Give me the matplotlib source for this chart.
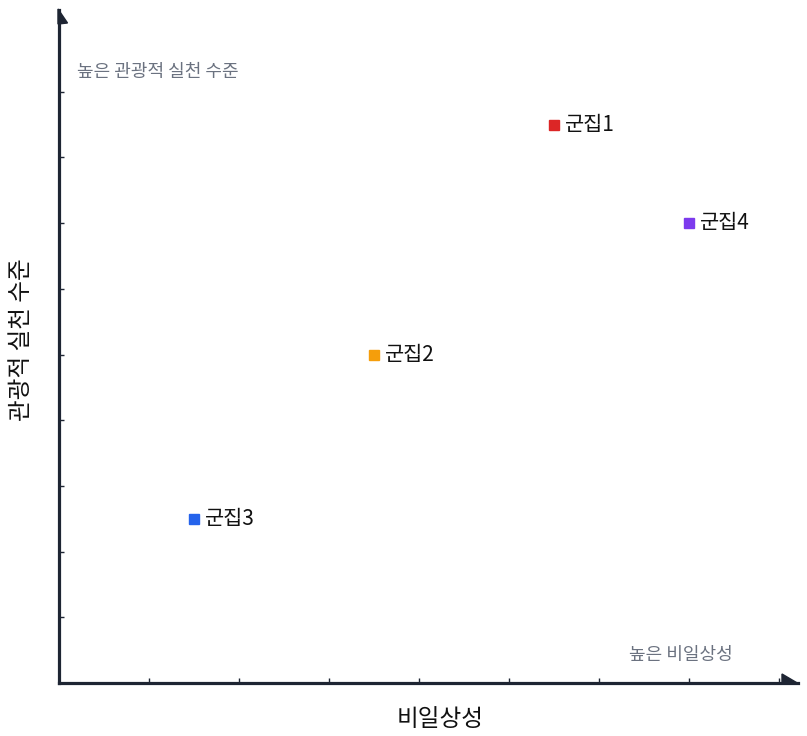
import numpy as np
import matplotlib.pyplot as plt
from matplotlib.patches import Polygon

plt.rcParams['font.family'] = ['Noto Sans CJK KR', 'DejaVu Sans']

# data
clusters = ['군집1', '군집2', '군집3', '군집4']
x_vals = [5.5, 3.5, 1.5, 7.0]
y_vals = [8.5, 5.0, 2.5, 7.0]
colors = ['#dc2626', '#f59e0b', '#2563eb', '#7c3aed']

x_ticks = [1, 2, 3, 4, 5, 6, 7, 8]
y_ticks = [1, 2, 3, 4, 5, 6, 7, 8, 9]

W, H = 807, 736
ax_left, ax_right, ax_top, ax_bottom = 58.5, 798, 10, 683
axis_color = '#1e2533'

fig = plt.figure(figsize=(W / 100, H / 100), dpi=100)
ax = fig.add_axes([ax_left / W, (H - ax_bottom) / H,
                   (ax_right - ax_left) / W, (ax_bottom - ax_top) / H])

ax.set_xlim(0, (ax_right - ax_left) / 90.0)
ax.set_ylim(0, (ax_bottom - ax_top) / 65.7)

for xv, yv, c, name in zip(x_vals, y_vals, colors, clusters):
    ax.plot(xv, yv, marker='s', markersize=7.4, color=c, linestyle='none')
    ax.annotate(name, (xv, yv), xytext=(8.3, 0), textcoords='offset points',
                va='center', ha='left', fontsize=15, color='#111111')

ax.spines['top'].set_visible(False)
ax.spines['right'].set_visible(False)
for s in ['left', 'bottom']:
    ax.spines[s].set_linewidth(2.3)
    ax.spines[s].set_color(axis_color)

ax.set_xticks(x_ticks)
ax.set_yticks(y_ticks)
ax.tick_params(direction='in', length=3.5, width=1, color=axis_color,
               labelbottom=False, labelleft=False)

# half arrowheads at the axis ends, in pixel offsets converted to axes fraction
aw, ah = ax_right - ax_left, ax_bottom - ax_top


def to_ax(px, py):
    return ((px - ax_left) / aw, (ax_bottom - py) / ah)


top_arrow = Polygon([to_ax(58, 9), to_ax(67.5, 23), to_ax(58, 24)],
                    closed=True, transform=ax.transAxes, color=axis_color,
                    clip_on=False, zorder=5)
right_arrow = Polygon([to_ax(799, 684), to_ax(782, 674), to_ax(782, 684)],
                      closed=True, transform=ax.transAxes, color=axis_color,
                      clip_on=False, zorder=5)
ax.add_patch(top_arrow)
ax.add_patch(right_arrow)

ax.set_xlabel('비일상성', fontsize=17, color='#111111')
ax.xaxis.set_label_coords((440 - ax_left) / aw, -(720 - ax_bottom) / ah)
ax.xaxis.label.set_va('center')
ax.set_ylabel('관광적 실천 수준', fontsize=17, color='#111111')
ax.yaxis.set_label_coords(-(ax_left - 22) / aw, (ax_bottom - 340) / ah)
ax.yaxis.label.set_va('center')

ax.text(*to_ax(77, 72), '높은 관광적 실천 수준', transform=ax.transAxes,
        ha='left', va='center', fontsize=13, color='#6b7280')
ax.text(*to_ax(733, 655), '높은 비일상성', transform=ax.transAxes,
        ha='right', va='center', fontsize=13, color='#6b7280')

fig.savefig('out.png', dpi=100, facecolor='white')
